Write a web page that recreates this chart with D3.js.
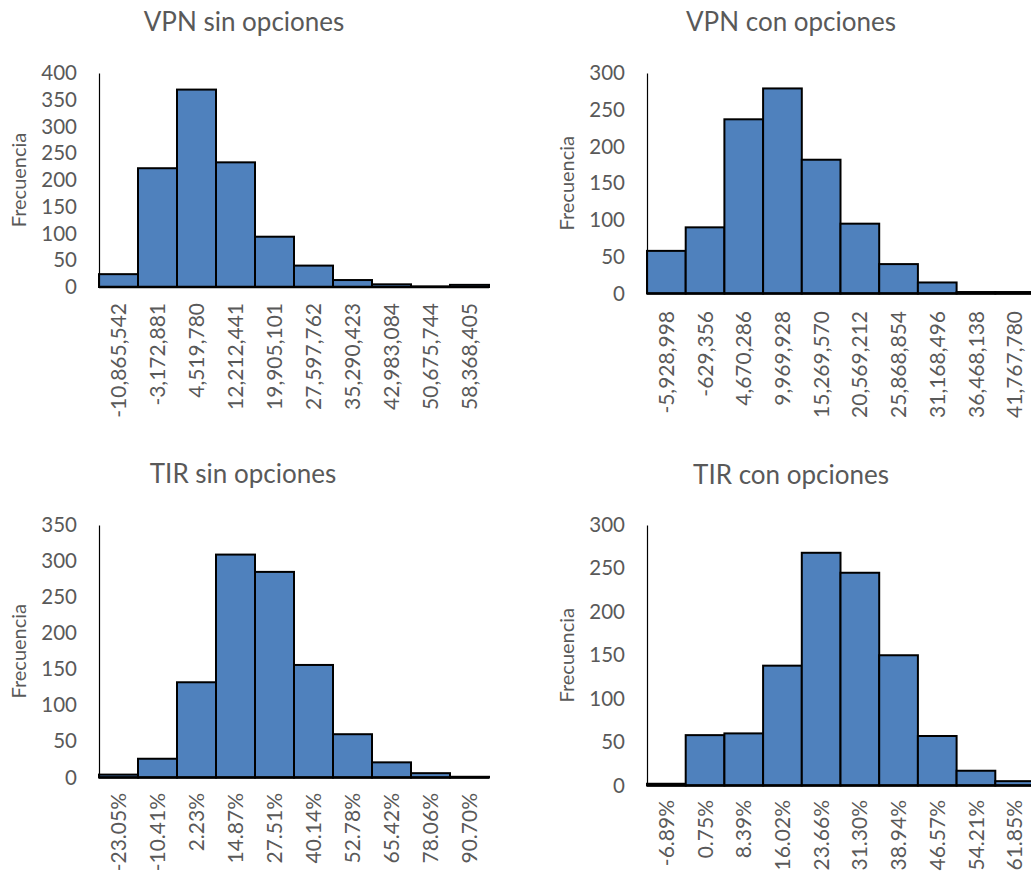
<!DOCTYPE html>
<html>
<head>
<meta charset="utf-8">
<script src="https://cdn.jsdelivr.net/npm/d3@7"></script>
<style>
  html, body { margin: 0; padding: 0; background: #ffffff; }
  svg { display: block; }
  text { font-family: Lato, "Open Sans", sans-serif; fill: #595959; }
</style>
</head>
<body>
<svg id="chart" width="1031" height="876"></svg>
<script>
// Histogram bins (lower-bound labels) and frequencies for each simulation output
const vpnSinLabels = ["-10,865,542", "-3,172,881", "4,519,780", "12,212,441", "19,905,101",
  "27,597,762", "35,290,423", "42,983,084", "50,675,744", "58,368,405"];
const vpnSinFreq = [24, 222, 369, 233, 94, 40, 13, 5, 1, 4];

const vpnConLabels = ["-5,928,998", "-629,356", "4,670,286", "9,969,928", "15,269,570",
  "20,569,212", "25,868,854", "31,168,496", "36,468,138", "41,767,780"];
const vpnConFreq = [58, 90, 237, 279, 182, 95, 40, 15, 2, 2];

const tirSinLabels = ["-23.05%", "-10.41%", "2.23%", "14.87%", "27.51%",
  "40.14%", "52.78%", "65.42%", "78.06%", "90.70%"];
const tirSinFreq = [4, 26, 132, 309, 285, 156, 60, 21, 6, 1];

const tirConLabels = ["-6.89%", "0.75%", "8.39%", "16.02%", "23.66%",
  "31.30%", "38.94%", "46.57%", "54.21%", "61.85%"];
const tirConFreq = [2, 58, 60, 138, 268, 245, 150, 57, 17, 5];

const titles = ["VPN sin opciones", "VPN con opciones", "TIR sin opciones", "TIR con opciones"];
const yMax = [400, 300, 350, 300];
const yStep = 50;
const yLabel = "Frecuencia";

// Layout of each panel: plot box, title and label positions
const panels = [
  { labels: vpnSinLabels, freq: vpnSinFreq, title: titles[0], ymax: yMax[0],
    x0: 99, x1: 489, yTop: 73, yBot: 287, titleX: 244, titleY: 31, ylabX: 19, tickLabTop: 303 },
  { labels: vpnConLabels, freq: vpnConFreq, title: titles[1], ymax: yMax[1],
    x0: 647, x1: 1034, yTop: 73, yBot: 293.5, titleX: 791, titleY: 31, ylabX: 567, tickLabTop: 311 },
  { labels: tirSinLabels, freq: tirSinFreq, title: titles[2], ymax: yMax[2],
    x0: 99, x1: 489, yTop: 525, yBot: 777.5, titleX: 243, titleY: 483, ylabX: 19, tickLabTop: 793 },
  { labels: tirConLabels, freq: tirConFreq, title: titles[3], ymax: yMax[3],
    x0: 647, x1: 1034, yTop: 525, yBot: 785.5, titleX: 791, titleY: 484, ylabX: 567, tickLabTop: 800 }
];

const svg = d3.select("#chart");

panels.forEach(p => {
  const g = svg.append("g");

  const x = d3.scaleBand().domain(p.labels).range([p.x0, p.x1]).padding(0);
  const y = d3.scaleLinear().domain([0, p.ymax]).range([p.yBot, p.yTop]);

  // title
  g.append("text")
    .attr("x", p.titleX).attr("y", p.titleY)
    .attr("text-anchor", "middle")
    .style("font-size", "26px")
    .text(p.title);

  // bars
  g.selectAll("rect.bar")
    .data(p.freq)
    .join("rect")
    .attr("class", "bar")
    .attr("x", (d, i) => x(p.labels[i]))
    .attr("width", x.bandwidth())
    .attr("y", d => y(d))
    .attr("height", d => y(0) - y(d))
    .attr("fill", "#4F81BD")
    .attr("stroke", "#000")
    .attr("stroke-width", 2);

  // y axis
  const yAxis = d3.axisLeft(y)
    .tickValues(d3.range(0, p.ymax + 1, yStep))
    .tickSize(0)
    .tickPadding(22);
  const ya = g.append("g").attr("transform", `translate(${p.x0},0)`).call(yAxis);
  ya.select(".domain").attr("stroke", "#000").attr("stroke-width", 1.2);
  ya.selectAll(".tick text")
    .style("font-size", "20.5px")
    .style("font-family", "Lato, 'Open Sans', sans-serif")
    .attr("fill", "#595959");

  // x axis baseline
  g.append("line")
    .attr("x1", p.x0).attr("x2", p.x1)
    .attr("y1", y(0)).attr("y2", y(0))
    .attr("stroke", "#000").attr("stroke-width", 2.5);

  // rotated bin labels
  g.selectAll("text.xlab")
    .data(p.labels)
    .join("text")
    .attr("class", "xlab")
    .attr("transform", d => `translate(${x(d) + x.bandwidth() / 2},${p.tickLabTop}) rotate(-90)`)
    .attr("text-anchor", "end")
    .attr("dy", "0.36em")
    .style("font-size", "21px")
    .text(d => d);

  // y axis title
  g.append("text")
    .attr("transform", `translate(${p.ylabX},${(p.yTop + p.yBot) / 2}) rotate(-90)`)
    .attr("text-anchor", "middle")
    .attr("dy", "0.35em")
    .style("font-size", "20px")
    .text(yLabel);
});
</script>
</body>
</html>
